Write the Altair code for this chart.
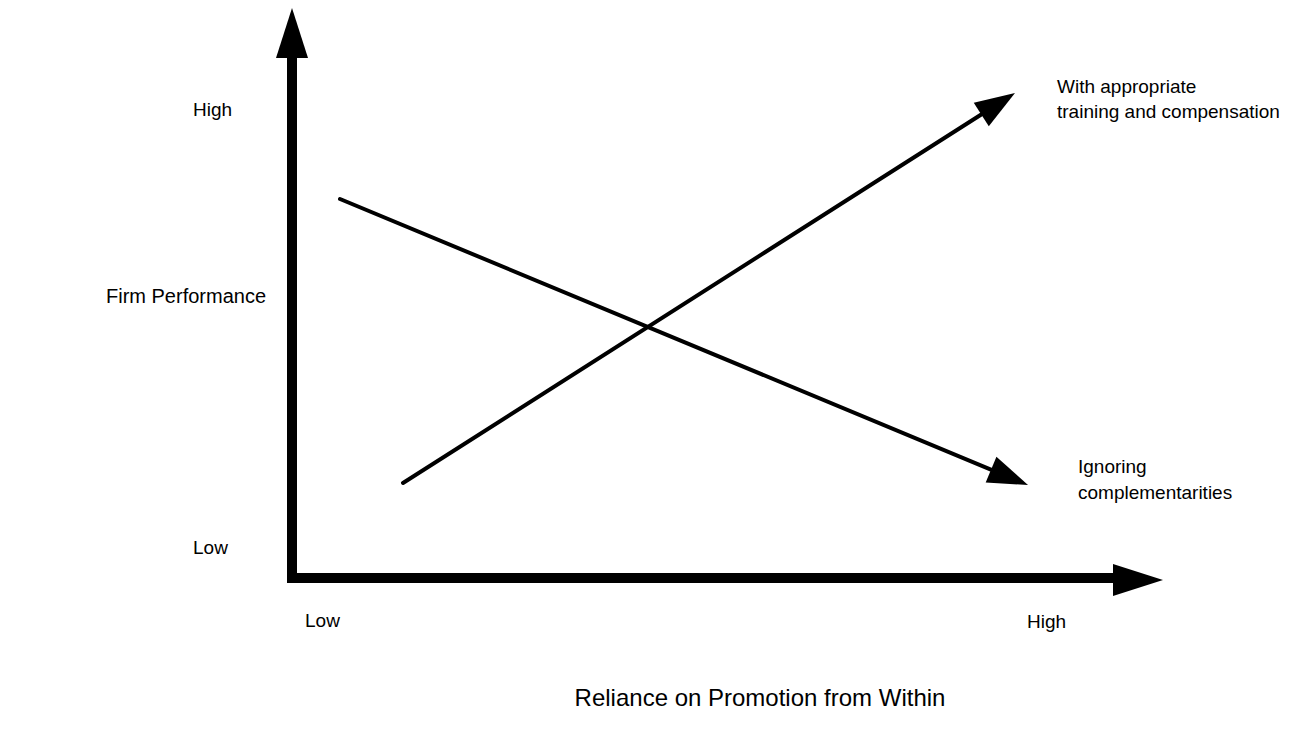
import math
import altair as alt
import pandas as pd

# ---- data (diagram coordinates, in page units: x to the right, y downward) ----
axis_path_x = [292, 292, 1118]
axis_path_y = [55, 578, 578]
axis_heads_x = [292, 1163]
axis_heads_y = [8, 580]
axis_heads_angle = [0, 90]

series_names = ["With appropriate training and compensation", "Ignoring complementarities"]
series_start_x = [403, 340]
series_start_y = [483, 199]
series_end_x = [1015, 1028]
series_end_y = [93, 485]

label_texts = ["High", "Low", "Firm Performance", "Low", "High",
               "Reliance on Promotion from Within",
               "With appropriate", "training and compensation",
               "Ignoring", "complementarities"]
label_x = [193, 193, 266, 305, 1027, 760, 1057, 1057, 1078, 1078]
label_y = [110, 548, 297, 621, 622, 699, 87, 112, 467, 493]
label_size = [19, 19, 20, 19, 19, 24, 19, 19, 19, 19]
label_align = ["left", "left", "right", "left", "left", "center", "left", "left", "left", "left"]

FONT = "Liberation Sans"
W, H = 1292, 722
xs = alt.Scale(domain=[8, 8 + W], nice=False, zero=False)
ys = alt.Scale(domain=[8, 8 + H], nice=False, zero=False, reverse=True)

# axis polyline
axis_df = pd.DataFrame({"x": axis_path_x, "y": axis_path_y, "o": range(len(axis_path_x))})
axes_line = alt.Chart(axis_df).mark_line(color="black", strokeWidth=10, strokeJoin="miter", strokeCap="butt").encode(
    x=alt.X("x:Q", scale=xs, axis=None),
    y=alt.Y("y:Q", scale=ys, axis=None),
    order="o:O",
)

big_head = "M0,0L0.64,2L-0.64,2Z"
axis_head_df = pd.DataFrame({"x": axis_heads_x, "y": axis_heads_y, "a": axis_heads_angle})
axes_heads = alt.Chart(axis_head_df).mark_point(shape=big_head, size=2500, filled=True, color="black", opacity=1).encode(
    x=alt.X("x:Q", scale=xs, axis=None),
    y=alt.Y("y:Q", scale=ys, axis=None),
    angle=alt.Angle("a:Q", scale=None),
)

# series lines
rows = []
heads = []
for n, sx, sy, ex, ey in zip(series_names, series_start_x, series_start_y, series_end_x, series_end_y):
    dx, dy = ex - sx, ey - sy
    L = math.hypot(dx, dy)
    trim = 20.0
    rows.append({"name": n, "x": sx, "y": sy, "x2": ex - dx / L * trim, "y2": ey - dy / L * trim})
    heads.append({"name": n, "x": ex, "y": ey, "a": math.degrees(math.atan2(dx, -dy)) % 360})

ser_df = pd.DataFrame(rows)
ser_lines = alt.Chart(ser_df).mark_rule(color="black", strokeWidth=4, strokeCap="round").encode(
    x=alt.X("x:Q", scale=xs, axis=None),
    y=alt.Y("y:Q", scale=ys, axis=None),
    x2="x2:Q",
    y2="y2:Q",
)
small_head = "M0,0L0.7,2L-0.7,2Z"
ser_heads = alt.Chart(pd.DataFrame(heads)).mark_point(shape=small_head, size=1600, filled=True, color="black", opacity=1).encode(
    x=alt.X("x:Q", scale=xs, axis=None),
    y=alt.Y("y:Q", scale=ys, axis=None),
    angle=alt.Angle("a:Q", scale=None),
)

# labels
label_layers = []
lab_df = pd.DataFrame({"t": label_texts, "x": label_x, "y": label_y, "s": label_size, "al": label_align})
for (s, al), g in lab_df.groupby(["s", "al"]):
    label_layers.append(
        alt.Chart(g).mark_text(font=FONT, fontSize=int(s), align=al, baseline="middle", color="black").encode(
            x=alt.X("x:Q", scale=xs, axis=None),
            y=alt.Y("y:Q", scale=ys, axis=None),
            text="t:N",
        )
    )

chart = alt.layer(axes_line, axes_heads, ser_lines, ser_heads, *label_layers).properties(
    width=W, height=H, padding=0, autosize=alt.AutoSizeParams(type="none"),
    background="white",
).configure_view(stroke=None, strokeWidth=0)

chart.save("out.html", embed_options={"renderer": "svg", "actions": False})
